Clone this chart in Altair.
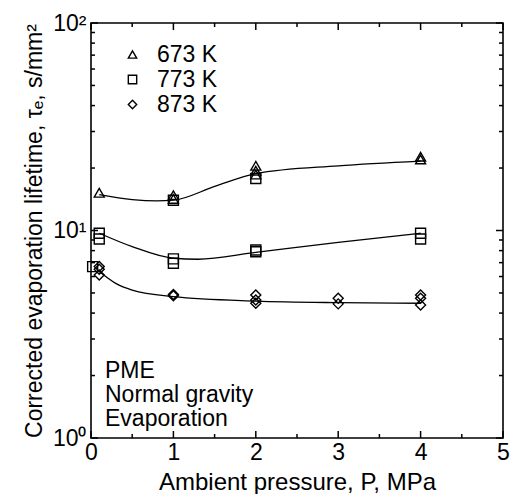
import altair as alt
import pandas as pd

# ---- data ----
series_names = ["673 K", "773 K", "873 K"]

x_673 = [0.1, 1, 1, 2, 2, 2, 4, 4]
y_673 = [15.2, 14.8, 14.2, 20.5, 19.4, 18.6, 22.7, 22.0]

x_773 = [0.02, 0.1, 0.1, 1, 1, 1, 2, 2, 2, 4, 4]
y_773 = [6.7, 9.7, 9.1, 14.0, 7.3, 6.95, 17.8, 8.05, 7.9, 9.7, 9.1]

x_873 = [0.1, 0.1, 0.1, 1, 1, 2, 2, 2, 3, 3, 4, 4, 4]
y_873 = [6.7, 6.5, 6.1, 4.92, 4.85, 4.89, 4.62, 4.46, 4.71, 4.43, 4.89, 4.71, 4.37]

fit_x_673 = [0.1, 0.5, 0.8, 1.0, 1.5, 2.0, 3.0, 4.0]
fit_y_673 = [14.9, 14.1, 13.9, 14.0, 16.3, 18.8, 20.5, 21.6]
fit_x_773 = [0.1, 0.5, 1.0, 1.3, 2.0, 3.0, 4.0]
fit_y_773 = [9.7, 8.36, 7.35, 7.27, 7.85, 8.77, 9.7]
fit_x_873 = [0.1, 0.3, 0.5, 1.0, 2.0, 3.0, 4.0]
fit_y_873 = [6.34, 5.56, 5.16, 4.8, 4.57, 4.49, 4.46]

x_major = [0, 1, 2, 3, 4, 5]
x_minor = [0.5, 1.5, 2.5, 3.5, 4.5]
y_major = [1, 10, 100]
y_minor = [2, 3, 4, 5, 6, 7, 8, 9, 20, 30, 40, 50, 60, 70, 80, 90]

notes = ["PME", "Normal gravity", "Evaporation"]

# ---- tables ----
pts = pd.concat([
    pd.DataFrame({"P": x_673, "tau": y_673, "series": series_names[0]}),
    pd.DataFrame({"P": x_773, "tau": y_773, "series": series_names[1]}),
    pd.DataFrame({"P": x_873, "tau": y_873, "series": series_names[2]}),
])
fits = pd.concat([
    pd.DataFrame({"P": fit_x_673, "tau": fit_y_673, "series": series_names[0]}),
    pd.DataFrame({"P": fit_x_773, "tau": fit_y_773, "series": series_names[1]}),
    pd.DataFrame({"P": fit_x_873, "tau": fit_y_873, "series": series_names[2]}),
])

W, H = 412, 415
FONT = "Liberation Sans"

xscale = alt.Scale(domain=[0, 5], nice=False, zero=False)
yscale = alt.Scale(type="log", domain=[1, 100], nice=False)

xaxis = alt.Axis(values=x_major, format="d", ticks=False, domain=False, grid=False,
                 labelFontSize=23, labelPadding=3, labelFont=FONT, labelColor="black",
                 title="Ambient pressure, P, MPa", titleFont=FONT, titleFontSize=24,
                 titleFontWeight="normal", titleColor="black", titlePadding=6,
                 labelFlush=False)
yaxis = alt.Axis(values=y_major, ticks=False, domain=False, grid=False,
                 labelExpr="datum.value == 1 ? '10⁰' : datum.value == 10 ? '10¹' : '10²'",
                 labelFontSize=23, labelPadding=5, labelFont=FONT, labelColor="black",
                 title="Corrected evaporation lifetime, τₑ, s/mm²", titleFont=FONT,
                 titleFontSize=23, titleFontWeight="normal", titleColor="black",
                 titlePadding=6)

lines = alt.Chart(fits).mark_line(interpolate="monotone", color="black", strokeWidth=1.3).encode(
    x=alt.X("P:Q", scale=xscale, axis=xaxis),
    y=alt.Y("tau:Q", scale=yscale, axis=yaxis),
    detail="series:N",
)

points = alt.Chart(pts).mark_point(filled=False, color="black", strokeWidth=1.4, opacity=1).encode(
    x=alt.X("P:Q", scale=xscale),
    y=alt.Y("tau:Q", scale=yscale),
    shape=alt.Shape("series:N",
                    scale=alt.Scale(domain=series_names, range=["triangle-up", "square", "diamond"]),
                    legend=alt.Legend(orient="none", legendX=30, legendY=20, title=None,
                                      labelFontSize=23, labelFont=FONT, labelColor="black",
                                      symbolSize=70, symbolStrokeWidth=1.4,
                                      symbolStrokeColor="black", symbolFillColor="transparent",
                                      rowPadding=1, labelOffset=13, padding=0)),
    size=alt.value(100),
)

tx_major = pd.DataFrame({"v": x_major})
tx_minor = pd.DataFrame({"v": x_minor})
ty_major = pd.DataFrame({"v": y_major})
ty_minor = pd.DataFrame({"v": y_minor})

def xticks(df, length):
    b = alt.Chart(df).mark_rule(color="black", strokeWidth=1.5).encode(
        x=alt.X("v:Q", scale=xscale), y=alt.value(H), y2=alt.value(H - length))
    t = alt.Chart(df).mark_rule(color="black", strokeWidth=1.5).encode(
        x=alt.X("v:Q", scale=xscale), y=alt.value(0), y2=alt.value(length))
    return [b, t]

def yticks(df, length):
    l = alt.Chart(df).mark_rule(color="black", strokeWidth=1.5).encode(
        y=alt.Y("v:Q", scale=yscale), x=alt.value(0), x2=alt.value(length))
    r = alt.Chart(df).mark_rule(color="black", strokeWidth=1.5).encode(
        y=alt.Y("v:Q", scale=yscale), x=alt.value(W), x2=alt.value(W - length))
    return [l, r]

note = alt.Chart(alt.Data(values=[{}])).mark_text(
    align="left", baseline="alphabetic", fontSize=23, font=FONT, color="black",
    lineBreak="\n", lineHeight=24).encode(
    x=alt.value(14), y=alt.value(355), text=alt.value("\n".join(notes)))

layers = [lines, points] + xticks(tx_major, 7) + xticks(tx_minor, 4) + \
    yticks(ty_major, 7) + yticks(ty_minor, 4) + [note]

chart = alt.layer(*layers).properties(
    width=W, height=H,
    autosize=alt.AutoSizeParams(type="none"),
    padding={"left": 91, "top": 23, "right": 8, "bottom": 56},
    background="white",
).configure_view(stroke="black", strokeWidth=1.6)

chart.save("out.html", embed_options={"renderer": "svg", "actions": False})
